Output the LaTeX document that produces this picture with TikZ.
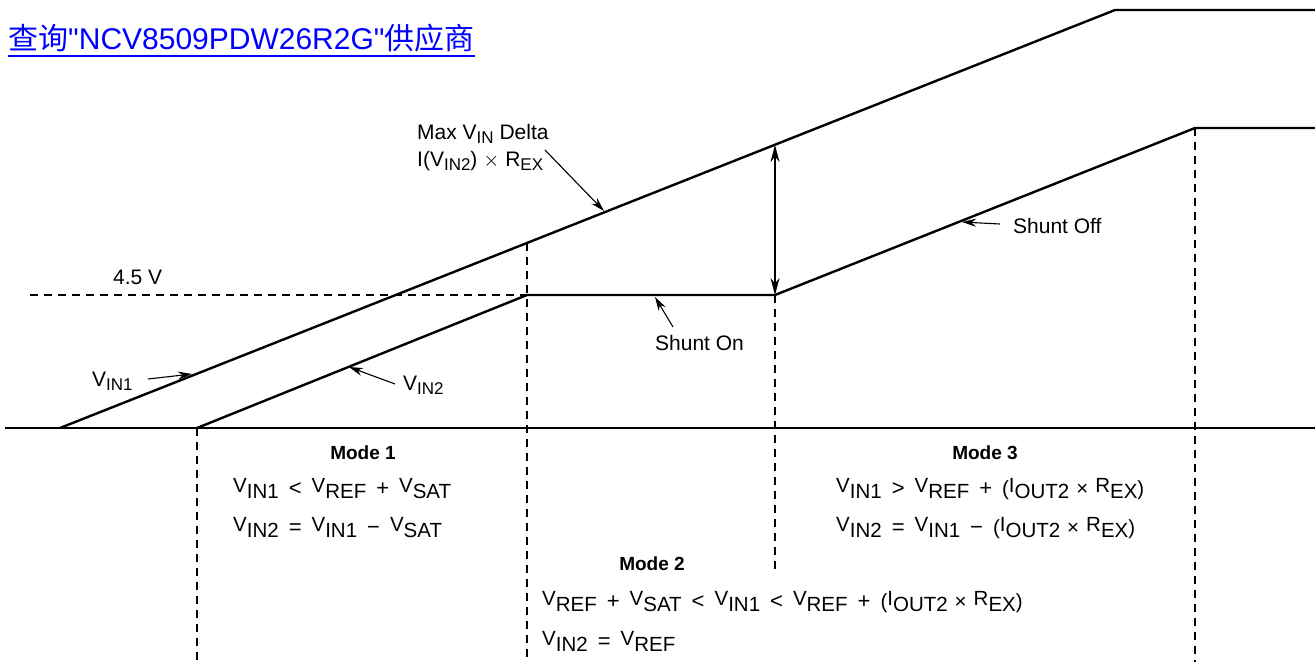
\documentclass[tikz,border=0pt]{standalone}
\usepackage{fontspec}
\setmainfont{Liberation Sans}
\newfontfamily\cjk{Noto Sans CJK SC}
\usetikzlibrary{arrows.meta}
\definecolor{ink}     {HTML}{000000}
\definecolor{linkblue}{HTML}{0000FF}
% subscripts: label style and equation style
\newcommand{\ls}[2]{#1\raisebox{-4pt}{\fontsize{17}{17}\selectfont #2}}
\newcommand{\ms}[2]{\raisebox{3pt}{#1}\raisebox{-3pt}{#2}}
\newcommand{\op}[1]{\hspace{10pt}{\fontsize{22}{24}\selectfont #1}\hspace{10pt}}
\tikzset{
  >=Stealth,
  every node/.style={font=\fontsize{21}{27}\selectfont, inner sep=0pt, text=ink},
  % --- lines
  trace/.style = {draw=ink, line width=2.4pt, line join=miter},
  guide/.style = {draw=ink, line width=2.4pt, dash pattern=on 8pt off 6pt},
  ptr/.style   = {-{Stealth[length=14pt,width=8pt]}, draw=ink, line width=1.1pt},
  span/.style  = {{Stealth[length=17pt,width=9pt]}-{Stealth[length=17pt,width=9pt]},
                  draw=ink, line width=1.1pt},
  ulink/.style = {draw=linkblue, line width=2.6pt},
  % --- text
  lbl/.style   = {anchor=west},
  mode/.style  = {font=\fontsize{19}{22}\selectfont\bfseries},
  eqn/.style   = {anchor=west, font=\fontsize{20.5}{24}\selectfont},
  link/.style  = {font=\fontsize{30}{34}\selectfont, text=linkblue, anchor=base west},
}
\begin{document}
\begin{tikzpicture}[x=1pt, y=-1pt]
  \useasboundingbox (0,0) rectangle (1315,662);
  % --- title
  \node[link] (title) at (8,49) {{\cjk 查询}\textquotedbl NCV8509PDW26R2G\textquotedbl{\cjk 供应商}};
  \draw[ulink] ([yshift=-7pt]title.base west) -- ([yshift=-7pt]title.base east);
  % --- points on the traces
  \coordinate (ax0) at (5,428);    \coordinate (ax1) at (1315,428);
  \coordinate (a0) at (60,428);    \coordinate (a1) at (1115,10);   \coordinate (a2) at (1315,10);
  \coordinate (b0) at (197,428);   \coordinate (b1) at (527,295);   \coordinate (b2) at (775,295);
  \coordinate (b3) at (1195,128);  \coordinate (b4) at (1315,128);
  \coordinate (p1) at (527,243);   \coordinate (p2) at (775,145);
  \coordinate (h0) at (30,295);
  \coordinate (d1) at (197,662);   \coordinate (d2) at (527,662);
  \coordinate (d3) at (775,572);   \coordinate (d4) at (1195,662);
  % --- traces
  \draw[trace] (ax0) -- (ax1);
  \draw[trace] (a0) -- (a1) -- (a2);
  \draw[trace] (b0) -- (b1) -- (b2) -- (b3) -- (b4);
  \draw[guide] (h0) -- (b1);
  \draw[guide] (b0) -- (d1);
  \draw[guide] (p1) -- (d2);
  \draw[guide] (b2) -- (d3);
  \draw[guide] (b3) -- (d4);
  \draw[span] (p2) -- (b2);
  % --- labels
  \node[lbl] (lv) at (113,277) {4.5 V};
  \node[lbl, align=left] (delta) at (417,148) {Max \ls{V}{IN} Delta\\I(\ls{V}{IN2}) $\times$ \ls{R}{EX}};
  \node[lbl] (vin1) at (92,381) {\ls{V}{IN1}};
  \node[lbl] (vin2) at (403,385) {\ls{V}{IN2}};
  \node[lbl] (son)  at (655,343) {Shunt On};
  \node[lbl] (soff) at (1013,226) {Shunt Off};
  \coordinate (t1) at (604,211);  \coordinate (t2) at (192,374);  \coordinate (t3) at (349,367);
  \coordinate (t4) at (655,297);  \coordinate (t5) at (962,222);
  \coordinate (s1) at (545,150);  \coordinate (s2) at (148,379);  \coordinate (s3) at (395,384);
  \coordinate (s4) at (673,327);  \coordinate (s5) at (1000,224);
  \draw[ptr] (s1) -- (t1);
  \draw[ptr] (s2) -- (t2);
  \draw[ptr] (s3) -- (t3);
  \draw[ptr] (s4) -- (t4);
  \draw[ptr] (s5) -- (t5);
  % --- modes
  \node[mode] (m1) at (363,453) {Mode 1};
  \node[eqn] (m1a) at (233,489) {\ms{V}{IN1}\op{<}\ms{V}{REF}\op{+}\ms{V}{SAT}};
  \node[eqn] (m1b) at (233,528) {\ms{V}{IN2}\op{=}\ms{V}{IN1}\op{−}\ms{V}{SAT}};
  \node[mode] (m3) at (985,453) {Mode 3};
  \node[eqn] (m3a) at (836,489) {\ms{V}{IN1}\op{>}\ms{V}{REF}\op{+}(\ms{I}{OUT2}\hspace{7pt}×\hspace{7pt}\ms{R}{EX})};
  \node[eqn] (m3b) at (836,528) {\ms{V}{IN2}\op{=}\ms{V}{IN1}\op{−}(\ms{I}{OUT2}\hspace{7pt}×\hspace{7pt}\ms{R}{EX})};
  \node[mode] (m2) at (652,564) {Mode 2};
  \node[eqn] (m2a) at (542,602) {\ms{V}{REF}\op{+}\ms{V}{SAT}\op{<}\ms{V}{IN1}\op{<}\ms{V}{REF}\op{+}(\ms{I}{OUT2}\hspace{7pt}×\hspace{7pt}\ms{R}{EX})};
  \node[eqn] (m2b) at (542,641) {\ms{V}{IN2}\op{=}\ms{V}{REF}};
\end{tikzpicture}
\end{document}
